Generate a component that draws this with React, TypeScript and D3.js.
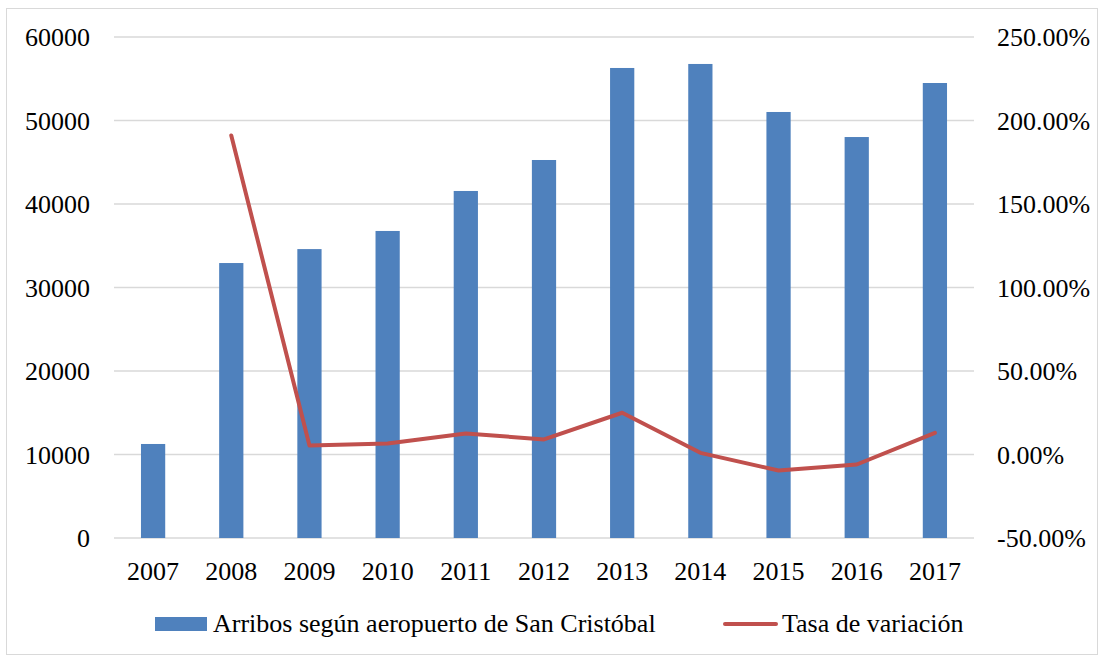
import React from "react";
import * as d3 from "d3";

const years = ["2007","2008","2009","2010","2011","2012","2013","2014","2015","2016","2017"];
const arribos = [11260, 32930, 34600, 36770, 41560, 45270, 56290, 56770, 51020, 48020, 54490];
const tasa: (number | null)[] = [null, 1.91, 0.054, 0.066, 0.126, 0.09, 0.25, 0.01, -0.096, -0.06, 0.13];
const leftTicks = [0, 10000, 20000, 30000, 40000, 50000, 60000];
const rightTicks = [-0.5, 0, 0.5, 1, 1.5, 2, 2.5];
const seriesNames = ["Arribos según aeropuerto de San Cristóbal", "Tasa de variación"];

export default function App() {
  const W = 1105, H = 659;
  const left = 114, right = 974, top = 37, bottom = 538;
  const x = d3.scaleBand().domain(years).range([left, right]).paddingInner(0.69).paddingOuter(0.345);
  const yL = d3.scaleLinear().domain([0, 60000]).range([bottom, top]);
  const yR = d3.scaleLinear().domain([-0.5, 2.5]).range([bottom, top]);
  const pts = years.map((y, i) => ({ y, v: tasa[i] })).filter(d => d.v !== null) as { y: string; v: number }[];
  const line = d3.line<{ y: string; v: number }>()
    .x(d => (x(d.y) as number) + x.bandwidth() / 2)
    .y(d => yR(d.v));
  return (
    <svg width={W} height={H} style={{ position: "absolute", left: 0, top: 0 }}>
      <rect x={0} y={0} width={W} height={H} fill="#fff" />
      <rect x={6.5} y={8.5} width={1091} height={646} fill="none" stroke="#d9d9d9" strokeWidth={1} />
      {leftTicks.map(t => (
        <line key={t} x1={left} x2={right} y1={yL(t)} y2={yL(t)} stroke="#d9d9d9" strokeWidth={1.3} />
      ))}
      {years.map((y, i) => (
        <rect key={y} x={x(y)} y={yL(arribos[i])} width={x.bandwidth()} height={bottom - yL(arribos[i])} fill="#4f81bd" />
      ))}
      <path d={line(pts) || ""} fill="none" stroke="#c0504d" strokeWidth={4} strokeLinejoin="round" strokeLinecap="round" />
      <g style={{ fontFamily: `"Times New Roman"`, fontSize: "26px" }}>
        {leftTicks.map(t => (
          <text key={t} x={90} y={yL(t) + 9}  textAnchor="end">{t}</text>
        ))}
        {rightTicks.map(t => (
          <text key={t} x={997} y={yR(t) + 9}>{(t * 100).toFixed(2) + "%"}</text>
        ))}
        {years.map(y => (
          <text key={y} x={(x(y) as number) + x.bandwidth() / 2} y={580} textAnchor="middle">{y}</text>
        ))}
        <text x={213} y={632}>{seriesNames[0]}</text>
        <text x={782} y={632}>{seriesNames[1]}</text>
      </g>
      <rect x={155} y={617} width={52} height={14} fill="#4f81bd" />
      <line x1={725} x2={776} y1={624} y2={624} stroke="#c0504d" strokeWidth={4} strokeLinecap="round" />
    </svg>
  );
}
